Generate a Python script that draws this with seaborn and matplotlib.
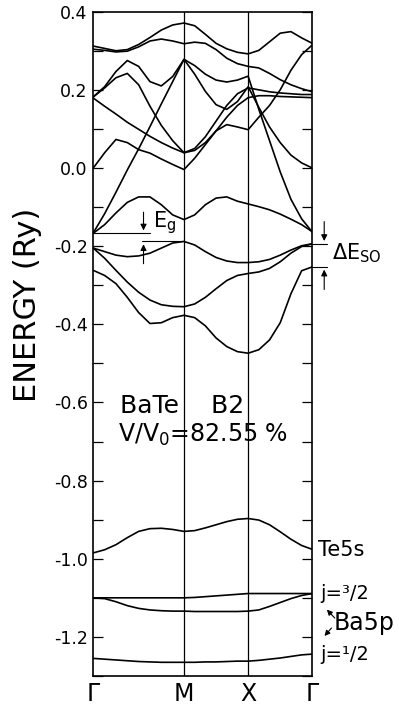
import numpy as np
import pandas as pd
import matplotlib
matplotlib.use("Agg")
import matplotlib.pyplot as plt
import seaborn as sns
from matplotlib.ticker import MultipleLocator

sns.set_theme(style="ticks")
plt.rcParams['font.family'] = ['DejaVu Sans']
plt.rcParams['axes.unicode_minus'] = False
plt.rcParams['mathtext.default'] = 'regular'
plt.rcParams['text.color'] = 'black'
plt.rcParams['xtick.color'] = 'black'
plt.rcParams['ytick.color'] = 'black'
plt.rcParams['axes.labelcolor'] = 'black'

R2 = np.sqrt(2.0)
kpoint_labels = ["Γ", "M", "X", "Γ"]
kpoint_pos = [0.0, R2, R2 + 1.0, R2 + 2.0]
# sample positions along the path: 9 on Γ-M, 7 on M-X, 7 on X-Γ (shared ends)
k_path = np.concatenate([np.linspace(0, R2, 9),
                         np.linspace(R2, R2 + 1, 7)[1:],
                         np.linspace(R2 + 1, R2 + 2, 7)[1:]])

# energies (Ry) read along the path
band_A = [0.312, 0.306, 0.300, 0.303, 0.316, 0.334, 0.353, 0.366, 0.371,
          0.364, 0.342, 0.319, 0.305, 0.296, 0.292,
          0.301, 0.323, 0.345, 0.349, 0.333, 0.319]
band_B = [0.304, 0.301, 0.297, 0.299, 0.310, 0.325, 0.330, 0.325, 0.318,
          0.322, 0.319, 0.303, 0.281, 0.267, 0.260,
          0.256, 0.242, 0.226, 0.213, 0.203, 0.195]
band_C = [0.182, 0.208, 0.247, 0.275, 0.260, 0.221, 0.210, 0.234, 0.278,
          0.240, 0.196, 0.162, 0.150, 0.170, 0.208,
          0.155, 0.105, 0.065, 0.033, 0.013, 0.000]
band_S = [-0.166, -0.117, -0.062, -0.005, 0.049, 0.106, 0.164, 0.221, 0.278,
          0.262, 0.240, 0.225, 0.220, 0.225, 0.235,
          0.150, 0.070, -0.010, -0.080, -0.130, -0.164]
band_D = [0.182, 0.205, 0.231, 0.242, 0.213, 0.158, 0.109, 0.070, 0.039,
          0.050, 0.080, 0.120, 0.160, 0.190, 0.205,
          0.200, 0.195, 0.192, 0.190, 0.188, 0.188]
band_E = [0.179, 0.158, 0.138, 0.117, 0.099, 0.081, 0.065, 0.051, 0.039,
          0.045, 0.065, 0.095, 0.130, 0.160, 0.180,
          0.185, 0.185, 0.183, 0.182, 0.181, 0.180]
band_F = [0.000, 0.039, 0.073, 0.065, 0.047, 0.038, 0.023, 0.009, -0.004,
          0.025, 0.060, 0.095, 0.111, 0.105, 0.098,
          0.130, 0.160, 0.200, 0.250, 0.290, 0.315]
band_C1 = [-0.167, -0.145, -0.115, -0.088, -0.074, -0.074, -0.094, -0.120, -0.132,
           -0.120, -0.094, -0.077, -0.074, -0.085, -0.092,
           -0.099, -0.107, -0.118, -0.131, -0.145, -0.163]
band_V3 = [-0.205, -0.214, -0.223, -0.227, -0.225, -0.218, -0.205, -0.192, -0.188,
           -0.197, -0.214, -0.229, -0.238, -0.242, -0.242,
           -0.240, -0.234, -0.223, -0.210, -0.199, -0.194]
band_V2 = [-0.205, -0.231, -0.262, -0.292, -0.318, -0.338, -0.350, -0.354, -0.355,
           -0.348, -0.331, -0.309, -0.288, -0.275, -0.270,
           -0.266, -0.257, -0.240, -0.218, -0.201, -0.194]
band_V1 = [-0.262, -0.275, -0.296, -0.331, -0.370, -0.398, -0.396, -0.383, -0.377,
           -0.383, -0.404, -0.435, -0.457, -0.470, -0.474,
           -0.465, -0.440, -0.396, -0.322, -0.263, -0.253]
band_Te5s = [-0.985, -0.977, -0.964, -0.946, -0.930, -0.923, -0.922, -0.925, -0.930,
             -0.928, -0.921, -0.913, -0.905, -0.899, -0.897,
             -0.901, -0.913, -0.931, -0.950, -0.966, -0.976]
band_Ba32a = [-1.100, -1.100, -1.100, -1.100, -1.100, -1.100, -1.100, -1.100, -1.100,
              -1.099, -1.097, -1.095, -1.093, -1.091, -1.089,
              -1.089, -1.089, -1.089, -1.089, -1.089, -1.089]
band_Ba32b = [-1.100, -1.102, -1.110, -1.120, -1.127, -1.131, -1.133, -1.134, -1.134,
              -1.135, -1.135, -1.135, -1.135, -1.135, -1.134,
              -1.131, -1.122, -1.112, -1.102, -1.094, -1.089]
band_Ba12 = [-1.255, -1.257, -1.259, -1.261, -1.263, -1.264, -1.265, -1.265, -1.265,
             -1.265, -1.264, -1.264, -1.263, -1.262, -1.262,
             -1.260, -1.257, -1.254, -1.250, -1.246, -1.244]

bands = {"A": band_A, "B": band_B, "C": band_C, "S": band_S, "D": band_D,
         "E": band_E, "F": band_F, "C1": band_C1, "V3": band_V3, "V2": band_V2,
         "V1": band_V1, "Te5s": band_Te5s, "Ba32a": band_Ba32a,
         "Ba32b": band_Ba32b, "Ba12": band_Ba12}

rows = []
for name, vals in bands.items():
    for k, e in zip(k_path, vals):
        rows.append({"band": name, "k": k, "E": e})
df = pd.DataFrame(rows)

fig = plt.figure(figsize=(3.99, 7.04), dpi=100)
ax = fig.add_axes([0.2338, 0.0398, 0.5489, 0.9436])

sns.lineplot(data=df, x="k", y="E", units="band", estimator=None, sort=False,
             color="black", linewidth=1.2, ax=ax, legend=False)

ax.set_xlim(0, R2 + 2)
ax.set_ylim(-1.3, 0.4)
for kp in kpoint_pos[1:3]:
    ax.axvline(kp, color="black", linewidth=0.9)

ax.set_xticks(kpoint_pos)
ax.set_xticklabels(kpoint_labels, fontsize=17)
ax.tick_params(axis="x", length=0, pad=4)
ax.yaxis.set_minor_locator(MultipleLocator(0.1))
yt = np.arange(-1.2, 0.41, 0.2)
ax.set_yticks(yt)
ax.set_yticklabels([f"{v:.1f}".replace("-0.0", "0.0") for v in yt], fontsize=12.5)
ax.tick_params(axis="y", which="both", direction="in", length=7.5, width=0.9,
               left=True, right=True, pad=4)
for sp in ax.spines.values():
    sp.set_linewidth(1.2)
    sp.set_color("black")
ax.set_xlabel("")
ax.set_ylabel("ENERGY (Ry)", fontsize=22)
ax.yaxis.set_label_coords(-0.235, 0.558)

# in-plot labels
ax.text(0.418, -0.608, "BaTe    B2", fontsize=18, va="center", ha="left")
ax.text(0.387, -0.683, "V/V$_0$=82.55 %", fontsize=17, va="center", ha="left")

# band-gap marks
ax.plot([0, 0.884], [-0.167, -0.167], color="black", lw=0.8)
ax.plot([0.754, R2], [-0.188, -0.188], color="black", lw=0.8)
ax.annotate("", xy=(0.783, -0.167), xytext=(0.783, -0.106),
            arrowprops=dict(arrowstyle="-|>", color="black", lw=0.8, mutation_scale=9))
ax.annotate("", xy=(0.783, -0.188), xytext=(0.783, -0.252),
            arrowprops=dict(arrowstyle="-|>", color="black", lw=0.8, mutation_scale=9))
ax.text(0.93, -0.141, "E$_g$", fontsize=15, va="center", ha="left")

# spin-orbit marks
xr = R2 + 2
ax.plot([xr, 3.64], [-0.194, -0.194], color="black", lw=0.8, clip_on=False)
ax.plot([xr, 3.64], [-0.253, -0.253], color="black", lw=0.8, clip_on=False)
ax.annotate("", xy=(3.6, -0.194), xytext=(3.6, -0.13),
            arrowprops=dict(arrowstyle="-|>", color="black", lw=0.8, mutation_scale=9),
            annotation_clip=False)
ax.annotate("", xy=(3.6, -0.253), xytext=(3.6, -0.318),
            arrowprops=dict(arrowstyle="-|>", color="black", lw=0.8, mutation_scale=9),
            annotation_clip=False)
ax.text(3.72, -0.218, "ΔE$_{SO}$", fontsize=15, va="center", ha="left", clip_on=False)

# right-side labels
ax.text(3.507, -0.978, "Te5s", fontsize=15, va="center", ha="left", clip_on=False)
ax.text(3.538, -1.090, "j=³/2", fontsize=14, va="center", ha="left", clip_on=False)
ax.text(3.75, -1.165, "Ba5p", fontsize=17, va="center", ha="left", clip_on=False)
ax.text(3.538, -1.246, "j=¹/2", fontsize=14, va="center", ha="left", clip_on=False)
ax.annotate("", xy=(3.612, -1.125), xytext=(3.794, -1.157),
            arrowprops=dict(arrowstyle="-|>", color="black", lw=0.8, mutation_scale=8),
            annotation_clip=False)
ax.annotate("", xy=(3.576, -1.203), xytext=(3.741, -1.172),
            arrowprops=dict(arrowstyle="-|>", color="black", lw=0.8, mutation_scale=8),
            annotation_clip=False)

fig.savefig("out.png", dpi=100)
